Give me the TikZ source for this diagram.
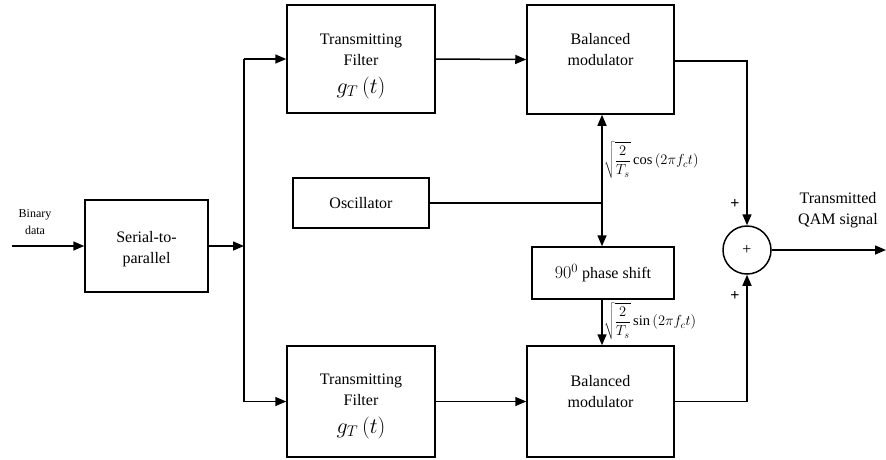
\RequirePackage{fix-cm}
\documentclass[tikz,border=0pt]{standalone}
\usepackage{fontspec}
\setmainfont{Liberation Serif}
\usetikzlibrary{arrows.meta}
\begin{document}
\begin{tikzpicture}[x=1pt,y=-1pt,
  blk/.style={draw,line width=1.5pt,minimum width=#1,inner sep=0pt},
  lbl/.style={font=\fontsize{16}{21}\selectfont,align=center,inner sep=0pt},
  wire/.style={line width=1.5pt},
  arr/.style={line width=1.5pt,-{Triangle[length=11pt,width=9pt]}},
  mlbl/.style={font=\fontsize{14.5}{16}\selectfont,inner sep=0pt,anchor=west},
  plus/.style={font=\bfseries\fontsize{16}{16}\selectfont,inner sep=0pt}
]
\useasboundingbox (0,0) rectangle (886,459);
% boxes
\node[blk=123pt,minimum height=92pt] (sp) at (146.5,246) {};
\node[lbl] at (146.5,249) {Serial-to-\\parallel};
\node[blk=148pt,minimum height=108pt] (f1) at (361,59) {};
\node[lbl] at (361,66) {Transmitting\\Filter\\[7pt]\fontsize{22}{21}\selectfont$g_T\left(t\right)$};
\node[blk=148pt,minimum height=111pt] (f2) at (361,401.5) {};
\node[lbl] at (361,406) {Transmitting\\Filter\\[7pt]\fontsize{22}{21}\selectfont$g_T\left(t\right)$};
\node[blk=147pt,minimum height=109pt] (m1) at (600.5,59.5) {};
\node[lbl] at (600.5,50) {Balanced\\modulator};
\node[blk=147pt,minimum height=111pt] (m2) at (600.5,401.5) {};
\node[lbl] at (600.5,392) {Balanced\\modulator};
\node[blk=136pt,minimum height=50pt,lbl] (osc) at (361,203) {Oscillator};
\node[draw,line width=1.5pt,minimum width=142pt,minimum height=52pt,lbl] (ps) at (603,273) {\fontsize{18}{21}\selectfont$90^0$\fontsize{16}{21}\selectfont\ phase shift};
\node[draw,circle,line width=1.5pt,minimum size=48pt,inner sep=0pt,font=\fontsize{16}{16}\selectfont] (sum) at (747,250) {+};
% coordinates
\coordinate (in) at (12,246);
\coordinate (split) at (244,246);
\coordinate (j) at (602,203);
\coordinate (out) at (886,250);
% labels
\node[font=\fontsize{12}{17}\selectfont,align=center,inner sep=0pt] at (35,222) {Binary\\data};
\node[lbl] at (838,210) {Transmitted\\QAM signal};
\node[plus] at (735,204) {+};
\node[plus] at (735,296) {+};
\node[mlbl] at (604,160) {$\displaystyle\sqrt{\frac{2}{T_s}}\cos\left(2\pi f_c t\right)$};
\node[mlbl] at (604,321) {$\displaystyle\sqrt{\frac{2}{T_s}}\sin\left(2\pi f_c t\right)$};
% connectors
\draw[arr] (in) -- (sp.west);
\draw[arr] (sp.east) -- (split);
\draw[wire] (split |- f1.west) -- (split |- f2.west);
\draw[arr] (split |- f1.west) -- (f1.west);
\draw[arr] (split |- f2.west) -- (f2.west);
\draw[arr] (f1.east) -- (m1.west);
\draw[arr] (f2.east) -- (m2.west);
\draw[wire] (osc.east) -- (j);
\draw[arr] (j) -- (j |- m1.south);
\draw[arr] (j) -- (j |- ps.north);
\draw[arr] (ps.south -| j) -- (j |- m2.north);
\draw[arr] (m1.east |- 0,61) -| (sum.north);
\draw[arr] (m2.east) -| (sum.south);
\draw[arr] (sum.east) -- (out);
\end{tikzpicture}
\end{document}
